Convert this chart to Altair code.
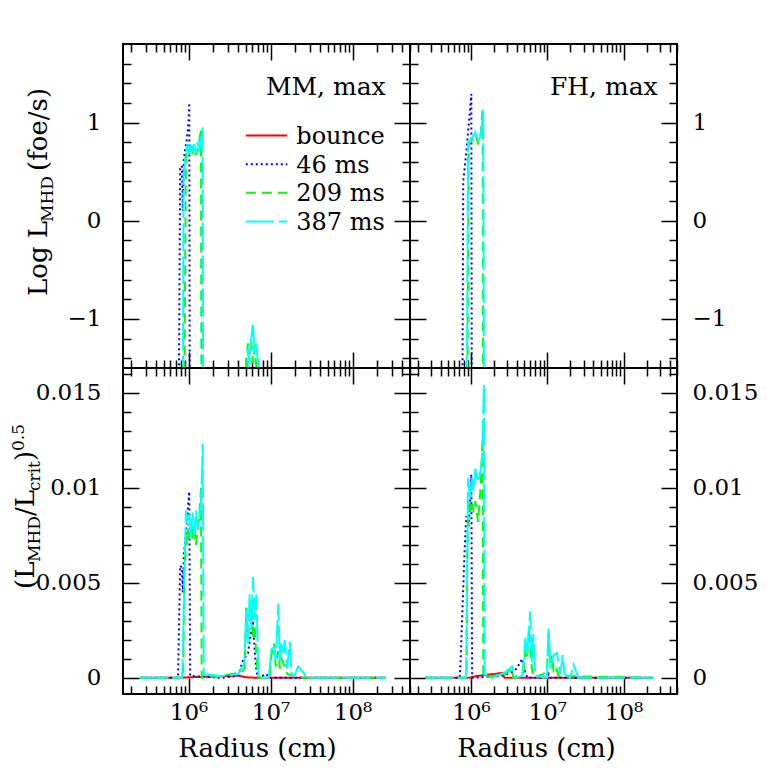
import altair as alt
import pandas as pd

FONT = "DejaVu Serif"
SERIES = ["bounce", "46 ms", "209 ms", "387 ms"]
COLORS = ["#ff0000", "#0000ff", "#00ff00", "#00ffff"]
DASHES = [[1, 0], [2, 3], [10, 6], [28, 5]]

# ---------------- MM model, top panel: Log L_MHD (foe/s) vs radius (cm) ----------------
MM_TOP_46_R = [7.45e5, 7.89e5, 8.28e5, 8.50e5, 8.75e5, 9.05e5, 9.40e5, 9.72e5, 1.00e6, 1.019e6, 1.038e6]
MM_TOP_46_V = [-3.0, 0.53, 0.56, 0.10, 0.62, 0.72, 0.80, 0.90, 1.02, 1.20, -3.0]
MM_TOP_209_R = [8.69e5, 9.27e5, 9.72e5, 1.019e6, 1.067e6, 1.119e6, 1.172e6, 1.230e6, 1.288e6, 1.349e6,
                1.416e6, 1.445e6, 4.90e6, 5.05e6, 5.30e6, 5.55e6, 5.81e6, 6.10e6, 6.38e6, 6.70e6, 7.03e6]
MM_TOP_209_V = [-3.0, 0.67, 0.74, 0.67, 0.77, 0.70, 0.74, 0.67, 0.74, 0.80,
                0.94, -3.0, -3.0, -1.42, -1.25, -1.36, -1.22, -1.45, -1.30, -1.48, -3.0]
MM_TOP_387_R = [8.43e5, 8.69e5, 9.27e5, 9.72e5, 1.019e6, 1.067e6, 1.119e6, 1.172e6, 1.230e6, 1.288e6,
                1.349e6, 1.416e6, 1.486e6, 1.510e6, 5.05e6, 5.30e6, 5.55e6, 5.81e6, 6.10e6, 6.38e6,
                6.70e6, 7.03e6, 7.16e6]
MM_TOP_387_V = [-3.0, 0.45, 0.70, 0.78, 0.68, 0.80, 0.70, 0.78, 0.69, 0.80,
                0.70, 0.85, 0.95, -3.0, -3.0, -1.30, -1.45, -1.20, -1.04, -1.35,
                -1.25, -1.45, -3.0]

# ---------------- FH model, top panel ----------------
FH_TOP_46_R = [7.62e5, 7.90e5, 8.24e5, 8.67e5, 9.31e5, 1.009e6, 1.030e6]
FH_TOP_46_V = [-3.0, 0.40, 0.53, 0.70, 0.97, 1.29, -3.0]
FH_TOP_209_R = [8.80e5, 9.31e5, 1.030e6, 1.138e6, 1.236e6, 1.324e6, 1.419e6, 1.449e6]
FH_TOP_209_V = [-3.0, 0.78, 0.82, 0.88, 0.79, 0.84, 1.14, -3.0]
FH_TOP_387_R = [8.67e5, 9.14e5, 9.31e5, 1.030e6, 1.138e6, 1.236e6, 1.324e6, 1.393e6, 1.445e6, 1.493e6]
FH_TOP_387_V = [-3.0, 0.80, 0.80, 0.84, 0.90, 0.80, 0.86, 0.97, 1.13, -3.0]

# ---------------- MM model, bottom panel: (L_MHD/L_crit)^0.5 ----------------
MM_BOT_BOUNCE_R = [2.55e5, 8.0e5, 1.0e6, 2.5e6, 4.0e6, 5.0e6, 7.0e6, 2.5e8]
MM_BOT_BOUNCE_V = [0, 0, 0.00003, 0.00008, 0.00012, 0.00003, 0, 0]
MM_BOT_46_R = [2.55e5, 7.30e5, 7.45e5, 7.89e5, 8.28e5, 8.50e5, 8.75e5, 9.27e5, 9.72e5, 1.019e6,
               1.045e6, 2.50e6, 4.00e6, 4.60e6, 5.30e6, 5.81e6, 6.10e6, 6.38e6, 6.70e6, 7.03e6,
               8.87e6, 9.50e6, 2.5e8]
MM_BOT_46_V = [0, 0, 0.0002, 0.0059, 0.0058, 0.0045, 0.0065, 0.0075, 0.0088, 0.0098,
               0.0001, 0, 0.0001, 0.0009, 0.0013, 0.0025, 0.0030, 0.0015, 0.0004, 0,
               0.0002, 0, 0]
MM_BOT_209_R = [2.55e5, 8.60e5, 8.83e5, 9.27e5, 9.72e5, 1.019e6, 1.067e6, 1.119e6, 1.172e6, 1.230e6,
                1.288e6, 1.349e6, 1.416e6, 1.445e6, 2.49e6, 4.39e6, 4.81e6, 5.05e6, 5.30e6, 5.55e6,
                5.81e6, 6.10e6, 6.38e6, 6.70e6, 7.03e6, 9.75e6, 1.023e7, 1.10e7, 1.155e7, 1.24e7,
                1.30e7, 1.355e7, 1.489e7, 1.60e7, 2.00e7, 2.50e7, 2.5e8]
MM_BOT_209_V = [0, 0, 0.0055, 0.0068, 0.0078, 0.0072, 0.0082, 0.0073, 0.0080, 0.0070,
                0.0078, 0.0085, 0.0100, 0.0, 0.0001, 0.0003, 0.0005, 0.0037, 0.0021, 0.0030,
                0.0041, 0.0020, 0.0028, 0.0012, 0.0, 0.0, 0.0012, 0.0018, 0.0006, 0.0014,
                0.0005, 0.0010, 0.0006, 0.0002, 0.0001, 0.0, 0]
MM_BOT_387_R = [2.55e5, 8.30e5, 8.43e5, 9.27e5, 9.72e5, 1.019e6, 1.067e6, 1.119e6, 1.172e6, 1.230e6,
                1.288e6, 1.349e6, 1.416e6, 1.486e6, 1.530e6, 2.49e6, 4.00e6, 4.81e6, 5.05e6, 5.30e6,
                5.55e6, 5.81e6, 6.10e6, 6.38e6, 6.70e6, 7.03e6, 7.16e6, 9.50e6, 1.023e7, 1.10e7,
                1.155e7, 1.24e7, 1.30e7, 1.355e7, 1.42e7, 1.489e7, 1.59e7, 1.714e7, 1.80e7, 1.95e7,
                2.17e7, 2.50e7, 2.74e7, 2.5e8]
MM_BOT_387_V = [0, 0, 0.0005, 0.0088, 0.0080, 0.0086, 0.0074, 0.0087, 0.0075, 0.0088,
                0.0078, 0.0085, 0.0090, 0.0123, 0.0002, 0.0001, 0.0002, 0.0008, 0.0036, 0.0018,
                0.0044, 0.0026, 0.0053, 0.0031, 0.0044, 0.0009, 0.0, 0.0, 0.0015, 0.0016,
                0.0009, 0.0039, 0.0009, 0.0018, 0.0012, 0.0020, 0.0005, 0.0019, 0.0002, 0.0001,
                0.0006, 0.0003, 0.0, 0]

# ---------------- FH model, bottom panel ----------------
FH_BOT_BOUNCE_R = [2.52e5, 9.6e5, 1.03e6, 1.5e6, 2.0e6, 2.55e6, 2.75e6, 2.45e8]
FH_BOT_BOUNCE_V = [0, 0, 0.00005, 0.00015, 0.0002, 0.00026, 0, 0]
FH_BOT_46_R = [2.52e5, 7.10e5, 7.24e5, 8.24e5, 8.67e5, 9.31e5, 9.79e5, 1.009e6, 1.035e6, 2.50e6,
               3.44e6, 4.00e6, 4.66e6, 4.88e6, 5.14e6, 5.50e6, 9.9e6, 1.04e7, 1.1e7, 2.45e8]
FH_BOT_46_V = [0, 0, 0.0005, 0.0067, 0.0085, 0.0080, 0.0095, 0.0107, 0.0, 0.0001,
               0.0003, 0.0005, 0.0010, 0.0007, 0.0003, 0.0, 0, 0.0002, 0, 0]
FH_BOT_209_R = [2.52e5, 8.70e5, 8.87e5, 9.31e5, 9.79e5, 1.030e6, 1.081e6, 1.138e6, 1.236e6, 1.324e6,
                1.419e6, 1.449e6, 1.884e6, 2.81e6, 3.44e6, 3.60e6, 4.88e6, 5.14e6, 5.41e6, 5.79e6,
                5.97e6, 6.28e6, 6.60e6, 9.89e6, 1.038e7, 1.091e7, 1.15e7, 1.208e7, 1.30e7, 1.40e7,
                2.45e8]
FH_BOT_209_V = [0, 0, 0.0060, 0.0093, 0.0088, 0.0093, 0.0087, 0.0093, 0.0082, 0.0098,
                0.0126, 0.0, 0.0001, 0.0002, 0.0005, 0.0, 0.0003, 0.0014, 0.0010, 0.0026,
                0.0015, 0.0005, 0.0, 0.0003, 0.0024, 0.0008, 0.0012, 0.0004, 0.0006, 0.0001,
                0]
FH_BOT_387_R = [2.52e5, 8.50e5, 8.67e5, 9.14e5, 9.31e5, 9.79e5, 1.030e6, 1.081e6, 1.138e6, 1.236e6,
                1.324e6, 1.393e6, 1.479e6, 1.507e6, 1.884e6, 2.81e6, 3.44e6, 3.80e6, 4.66e6, 4.88e6,
                5.14e6, 5.41e6, 5.79e6, 5.97e6, 6.28e6, 6.59e6, 6.95e6, 9.89e6, 1.038e7, 1.091e7,
                1.208e7, 1.337e7, 1.476e7, 1.60e7, 1.679e7, 1.995e7, 2.21e7, 2.56e7, 2.45e8]
FH_BOT_387_V = [0, 0, 0.0005, 0.0105, 0.0100, 0.0095, 0.0105, 0.0098, 0.0110, 0.0103,
                0.0108, 0.0115, 0.0155, 0.0002, 0.0, 0.0003, 0.0006, 0.0, 0.0001, 0.0008,
                0.0021, 0.0012, 0.0028, 0.0035, 0.0008, 0.0023, 0.0001, 0.0, 0.0026, 0.0005,
                0.0012, 0.0013, 0.0002, 0.0012, 0.0002, 0.0, 0.0007, 0.0, 0]

# ---------------- axes ----------------
X_DOMAIN = [1.585e5, 5.012e8]
X_TICKS = [m * 10.0 ** e for e in range(5, 9) for m in range(1, 10)]
X_TICKS = [t for t in X_TICKS if X_DOMAIN[0] <= t <= X_DOMAIN[1]]
TOP_DOMAIN = [-1.5, 1.8]
TOP_TICKS = [round(-1.4 + 0.2 * i, 1) for i in range(16)]
BOT_DOMAIN = [-0.00085, 0.0163]
BOT_TICKS = [round(0.001 * i, 3) for i in range(17)]

W_LEFT, W_RIGHT = 287, 267
H_TOP, H_BOT = 324, 326

LG = "log(datum.value)/LN10"
X_MAJOR = f"abs({LG} - round({LG})) < 1e-6"
X_LABEL = f"{X_MAJOR} ? '10' + (round({LG}) == 6 ? '⁶' : round({LG}) == 7 ? '⁷' : '⁸') : ''"
TOP_MAJOR = "abs(datum.value - round(datum.value)) < 1e-6"
TOP_LABEL = f"{TOP_MAJOR} ? format(datum.value, 'd') : ''"
BOT_MAJOR = "abs(datum.value * 200 - round(datum.value * 200)) < 1e-6"
BOT_LABEL = f"{BOT_MAJOR} ? format(datum.value, '~g') : ''"


def axis(orient, values, major, label, show, pad):
    kw = dict(orient=orient, values=values, title=None, domain=False, grid=False, ticks=True,
              tickSize=alt.ExprRef(expr=f"{major} ? -16 : -8"), tickWidth=1.5, tickColor="black",
              labels=show, labelOverlap=False, labelFlush=False)
    if show:
        kw.update(labelExpr=label, labelPadding=pad, labelFont=FONT, labelFontSize=23,
                  labelColor="black")
    return alt.Axis(**kw)


def frame(parts):
    rows = []
    for s, r, v in parts:
        assert len(r) == len(v), s
        rows += [{"series": s, "r": a, "v": b} for a, b in zip(r, v)]
    return pd.DataFrame(rows)


def text(t, x, y, size=24, align="left", angle=0):
    return alt.Chart(pd.DataFrame({"t": [t]})).mark_text(
        align=align, baseline="alphabetic", font=FONT, fontSize=size, color="black", angle=angle
    ).encode(text="t:N", x=alt.value(x), y=alt.value(y))


def panel(parts, w, h, ydom, yticks, ymajor, ylabel, xlabels, yside, extras):
    df = frame(parts)
    xs = alt.Scale(type="log", domain=X_DOMAIN)
    ys = alt.Scale(domain=ydom)
    color = alt.Color("series:N", scale=alt.Scale(domain=SERIES, range=COLORS), legend=None)
    dash = alt.StrokeDash("series:N", scale=alt.Scale(domain=SERIES, range=DASHES), legend=None)
    lines = alt.Chart(df).mark_line(clip=True, strokeWidth=2).encode(
        x=alt.X("r:Q", scale=xs, axis=axis("bottom", X_TICKS, X_MAJOR, X_LABEL, xlabels, 23)),
        y=alt.Y("v:Q", scale=ys, axis=axis("left", yticks, ymajor, ylabel, yside == "left", 38)),
        color=color, strokeDash=dash)
    mirror = alt.Chart(df).mark_line(clip=True, strokeOpacity=0).encode(
        x=alt.X("r:Q", scale=xs, axis=axis("top", X_TICKS, X_MAJOR, X_LABEL, False, 0)),
        y=alt.Y("v:Q", scale=ys, axis=axis("right", yticks, ymajor, ylabel, yside == "right", 31)))
    return alt.layer(lines, mirror, *extras).resolve_axis(
        x="independent", y="independent").properties(width=w, height=h)


# legend (top-left panel)
LEG_X0, LEG_X1, LEG_TX = 0.5, 42, 51
LEG_Y0, LEG_DY = 91.6, 28.6
legend_df = pd.DataFrame({"series": SERIES})
legend_layers = []
for i, s in enumerate(SERIES):
    yy = LEG_Y0 + LEG_DY * i
    sub = alt.Chart(legend_df).transform_filter(alt.datum.series == s)
    legend_layers.append(sub.mark_rule(strokeWidth=2).encode(
        x=alt.value(LEG_X0 + 122.3), x2=alt.value(LEG_X1 + 122.3), y=alt.value(yy),
        color=alt.Color("series:N", scale=alt.Scale(domain=SERIES, range=COLORS), legend=None),
        strokeDash=alt.StrokeDash("series:N", scale=alt.Scale(domain=SERIES, range=DASHES), legend=None)))
    legend_layers.append(sub.mark_text(align="left", baseline="alphabetic", font=FONT, fontSize=24,
                                       color="black").encode(
        text="series:N", x=alt.value(LEG_TX + 122.3), y=alt.value(yy + 8.5)))

title_top = [
    text("Log L", -76, 252, 26, "left", 270),
    text("MHD", -70, 178, 17, "left", 270),
    text("(foe/s)", -76, 127, 26, "left", 270),
]
title_bot = [
    text("(L", -89, 221, 26, "left", 270),
    text("MHD", -83, 194, 17, "left", 270),
    text("/L", -89, 148, 26, "left", 270),
    text("crit", -83, 123, 17, "left", 270),
    text(")", -89, 93, 26, "left", 270),
    text("0.5", -99, 83, 17, "left", 270),
]

tl = panel([("46 ms", MM_TOP_46_R, MM_TOP_46_V), ("209 ms", MM_TOP_209_R, MM_TOP_209_V),
            ("387 ms", MM_TOP_387_R, MM_TOP_387_V)],
           W_LEFT, H_TOP, TOP_DOMAIN, TOP_TICKS, TOP_MAJOR, TOP_LABEL, False, "left",
           [text("MM, max", 262.7, 50.6, 25, "right")] + legend_layers + title_top)
tr = panel([("46 ms", FH_TOP_46_R, FH_TOP_46_V), ("209 ms", FH_TOP_209_R, FH_TOP_209_V),
            ("387 ms", FH_TOP_387_R, FH_TOP_387_V)],
           W_RIGHT, H_TOP, TOP_DOMAIN, TOP_TICKS, TOP_MAJOR, TOP_LABEL, False, "right",
           [text("FH, max", 247.7, 50.6, 25, "right")])
bl = panel([("bounce", MM_BOT_BOUNCE_R, MM_BOT_BOUNCE_V), ("46 ms", MM_BOT_46_R, MM_BOT_46_V),
            ("209 ms", MM_BOT_209_R, MM_BOT_209_V), ("387 ms", MM_BOT_387_R, MM_BOT_387_V)],
           W_LEFT, H_BOT, BOT_DOMAIN, BOT_TICKS, BOT_MAJOR, BOT_LABEL, True, "left",
           title_bot + [text("Radius (cm)", W_LEFT / 2 - 9, 389, 26, "center")])
br = panel([("bounce", FH_BOT_BOUNCE_R, FH_BOT_BOUNCE_V), ("46 ms", FH_BOT_46_R, FH_BOT_46_V),
            ("209 ms", FH_BOT_209_R, FH_BOT_209_V), ("387 ms", FH_BOT_387_R, FH_BOT_387_V)],
           W_RIGHT, H_BOT, BOT_DOMAIN, BOT_TICKS, BOT_MAJOR, BOT_LABEL, True, "right",
           [text("Radius (cm)", W_RIGHT / 2 - 7, 389, 26, "center")])

chart = alt.concat(tl, tr, bl, br, columns=2, spacing=0, bounds="flush", align="each").configure_view(
    stroke="black", strokeWidth=2).properties(
    padding={"left": 1, "top": 34, "right": 5, "bottom": 5}, background="white")

chart.save("out.html", embed_options={"renderer": "svg", "actions": False})
